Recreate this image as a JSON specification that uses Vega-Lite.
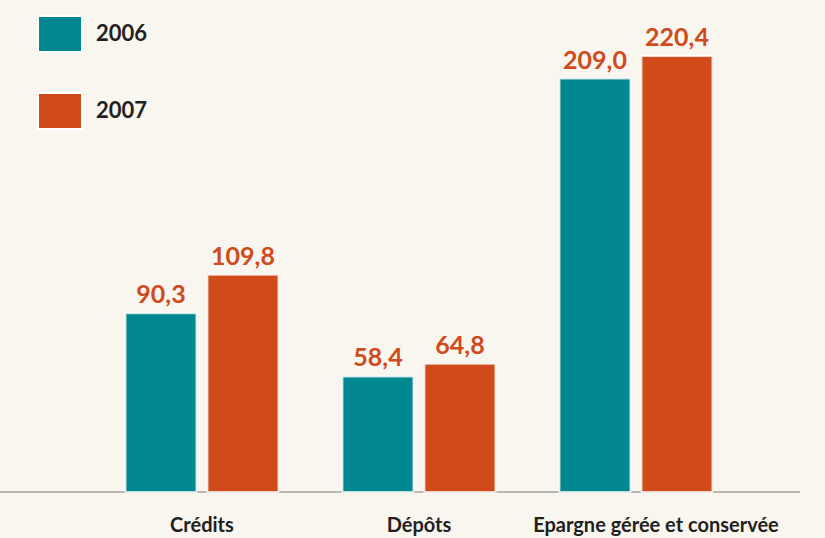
{
  "$schema": "https://vega.github.io/schema/vega-lite/v6.json",
  "width": 800,
  "height": 455,
  "autosize": {"type": "none"},
  "padding": {"left": 0, "top": 37, "right": 25, "bottom": 46},
  "background": "#f8f6ef",
  "config": {"view": {"stroke": null}, "font": "Lato"},
  "data": {
    "values": [
      {"cat": "Crédits", "year": "2006", "value": 90.3, "label": "90,3"},
      {"cat": "Crédits", "year": "2007", "value": 109.8, "label": "109,8"},
      {"cat": "Dépôts", "year": "2006", "value": 58.4, "label": "58,4"},
      {"cat": "Dépôts", "year": "2007", "value": 64.8, "label": "64,8"},
      {"cat": "Epargne gérée et conservée", "year": "2006", "value": 209.0, "label": "209,0"},
      {"cat": "Epargne gérée et conservée", "year": "2007", "value": 220.4, "label": "220,4"}
    ]
  },
  "layer": [
    {
      "data": {"values": [{"g": 0}]},
      "mark": {"type": "rule", "color": "#a3a29c", "strokeWidth": 1.5},
      "encoding": {"y": {"datum": 0, "type": "quantitative", "scale": {"domain": [0, 230], "nice": false}, "axis": null}}
    },
    {
      "mark": {"type": "bar", "stroke": "white", "strokeWidth": 2, "strokeOpacity": 0.75},
      "encoding": {
        "x": {
          "field": "cat", "type": "nominal",
          "sort": ["Crédits", "Dépôts", "Epargne gérée et conservée"],
          "scale": {"paddingInner": 0.295, "paddingOuter": 0.4908, "align": 0.589},
          "axis": {
            "title": null, "domain": false, "ticks": false, "labelAngle": 0, "labelLimit": 0,
            "labelFont": "Lato", "labelFontSize": 20, "labelFontWeight": "bold",
            "labelColor": "#231f20", "labelPadding": 23,
            "labelOffset": {"condition": {"test": "datum.value === 'Epargne gérée et conservée'", "value": 20}, "value": 0}
          }
        },
        "xOffset": {
          "field": "year", "type": "nominal",
          "scale": {"paddingInner": 0.134, "paddingOuter": 0}
        },
        "y": {
          "field": "value", "type": "quantitative",
          "scale": {"domain": [0, 230], "nice": false},
          "axis": null
        },
        "color": {
          "field": "year", "type": "nominal",
          "scale": {"domain": ["2006", "2007"], "range": ["#00878f", "#d14b1a"]},
          "legend": {
            "orient": "none", "legendX": 37, "legendY": -26, "title": null,
            "symbolType": "M-1,-0.82H1V0.82H-1Z", "symbolSize": 1936,
            "symbolStrokeColor": "white", "symbolStrokeWidth": 2,
            "labelFontSize": 22, "labelFont": "Lato", "labelFontWeight": "bold",
            "labelColor": "#231f20", "labelOffset": 13, "rowPadding": 31, "padding": 0,
            "symbolOpacity": 1
          }
        }
      }
    },
    {
      "mark": {"type": "text", "baseline": "alphabetic", "dy": -10, "fontSize": 25, "fontWeight": "bold", "font": "Lato", "color": "#d04a1c"},
      "encoding": {
        "x": {"field": "cat", "type": "nominal", "sort": ["Crédits", "Dépôts", "Epargne gérée et conservée"]},
        "xOffset": {"field": "year", "type": "nominal"},
        "y": {"field": "value", "type": "quantitative"},
        "text": {"field": "label"}
      }
    }
  ]
}
